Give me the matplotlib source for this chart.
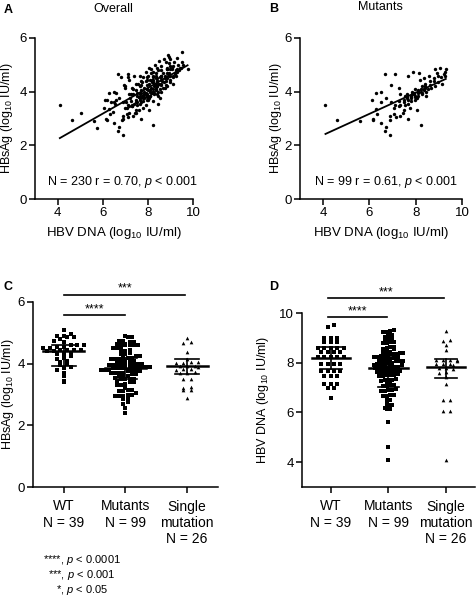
import numpy as np
import matplotlib.pyplot as plt

plt.rcParams['font.family'] = ['Liberation Sans', 'DejaVu Sans']
plt.rcParams['mathtext.fontset'] = 'custom'
plt.rcParams['mathtext.rm'] = 'Liberation Sans'
plt.rcParams['mathtext.it'] = 'Liberation Sans:italic'

# Mutants: paired HBV DNA / HBsAg (panel B, Mutants column of C and D)
mut_dna = [9.30, 9.25, 9.28, 9.22, 9.10, 9.05, 9.12, 8.95, 8.92, 8.98,
           8.80, 8.78, 8.83, 8.85, 8.60, 8.62, 8.57, 8.65, 8.55,
           8.40, 8.35, 8.43, 8.38, 8.45, 8.42, 8.36,
           8.25, 8.22, 8.27, 8.24, 8.20, 8.28, 8.26,
           8.10, 8.08, 8.12, 8.05, 8.13, 8.07, 8.11,
           7.95, 7.92, 7.97, 7.93, 7.98, 7.90, 7.96,
           7.80, 7.78, 7.82, 7.77, 7.83, 7.79, 7.81,
           7.65, 7.62, 7.67, 7.63, 7.68, 7.64, 7.66,
           7.50, 7.48, 7.52, 7.47, 7.53, 7.49,
           7.30, 7.28, 7.32, 7.27, 7.33, 7.29,
           7.10, 7.08, 7.12, 7.07, 7.13,
           6.90, 6.88, 6.92, 6.87, 6.93,
           6.70, 6.68, 6.72, 6.67,
           6.50, 6.48, 6.52, 6.30, 6.28, 6.32, 6.15, 6.12, 6.17,
           5.60, 4.62, 4.10]
mut_hbsag = [4.85, 4.60, 4.75, 4.65, 4.55, 4.90, 4.30, 4.60, 4.70, 4.35,
             4.40, 4.50, 4.20, 4.85, 4.25, 4.40, 4.60, 4.15, 4.10,
             4.30, 4.50, 4.00, 4.15, 3.85, 4.20, 4.05,
             4.00, 4.10, 3.95, 2.75, 4.45, 3.90, 4.20,
             3.85, 4.05, 3.95, 3.30, 4.70, 3.75, 4.00,
             3.80, 3.95, 4.10, 3.90, 3.70, 4.75, 3.85,
             3.75, 3.85, 3.90, 3.40, 4.00, 3.65, 3.80,
             3.70, 3.80, 3.55, 3.90, 3.00, 3.75, 4.60,
             3.60, 3.70, 3.50, 3.20, 3.85, 3.30,
             3.50, 3.45, 3.10, 3.65, 3.90, 4.15,
             3.50, 3.15, 4.65, 3.40, 3.05,
             2.40, 3.10, 3.60, 2.95, 4.25,
             2.70, 2.55, 3.75, 4.65,
             4.00, 3.60, 2.85, 3.95, 3.35, 3.15, 3.00, 3.70, 2.95,
             2.90, 2.95, 3.50]

# Wild type
wt_dna = [9.50, 9.42, 8.98, 8.98, 8.98, 8.85, 8.85, 8.85,
          8.60, 8.60, 8.60, 8.60, 8.60, 8.42, 8.42, 8.42, 8.42,
          8.22, 8.22, 8.22, 8.22, 8.22, 7.95, 7.95, 7.95, 7.95,
          7.68, 7.68, 7.68, 7.68, 7.48, 7.48, 7.48,
          7.15, 7.15, 7.15, 7.00, 7.00, 6.60]
wt_hbsag = [5.10, 4.90, 4.85, 4.60, 4.95, 4.70, 4.50, 4.85,
            4.55, 4.45, 4.80, 4.30, 4.60, 4.40, 4.50, 4.20, 4.90,
            4.45, 4.60, 4.35, 4.00, 4.75, 4.10, 4.45, 3.85, 4.55,
            4.40, 3.95, 4.25, 3.80, 4.30, 3.60, 4.05,
            3.45, 4.45, 3.90, 3.40, 4.15, 3.70]

# Remaining patients of the overall cohort (panel A only)
other_dna = [5.06, 5.76, 9.50, 9.76, 6.05, 6.20, 6.45, 6.55, 6.60, 6.80,
             7.00, 7.05, 7.20, 7.25, 7.35, 7.40, 7.45, 7.50, 7.55, 7.60,
             7.65, 7.70, 7.70, 7.75, 7.80, 7.85, 7.85, 7.90, 7.95, 7.95,
             8.00, 8.00, 8.05, 8.10, 8.10, 8.15, 8.15, 8.20, 8.20, 8.25,
             8.30, 8.30, 8.35, 8.35, 8.40, 8.45, 8.45, 8.50, 8.50, 8.55,
             8.60, 8.60, 8.65, 8.70, 8.70, 8.75, 8.80, 8.80, 8.85, 8.90,
             8.90, 8.95, 9.00, 9.00, 9.05, 9.10, 9.15, 9.20, 9.25, 9.30,
             9.35, 9.40, 9.45, 9.55, 7.30, 7.60, 7.90, 8.00, 8.25, 8.40,
             7.15, 6.90, 7.40, 7.10, 6.35, 8.55, 8.75, 9.10, 8.05, 7.75,
             8.35, 8.95]
other_hbsag = [3.22, 2.63, 5.49, 4.83, 3.40, 3.70, 3.25, 3.55, 3.95, 4.55,
               4.20, 3.60, 3.75, 3.90, 4.10, 3.55, 3.20, 3.95, 4.30, 3.80,
               4.20, 3.60, 4.05, 4.35, 4.55, 3.75, 4.15, 4.40, 3.90, 4.25,
               4.60, 4.05, 4.30, 4.45, 3.85, 4.15, 4.85, 4.35, 3.95, 4.55,
               4.25, 5.00, 4.05, 4.70, 4.40, 3.55, 4.80, 4.30, 5.15, 4.55,
               4.00, 4.95, 4.70, 4.35, 5.20, 4.60, 4.25, 5.10, 4.90, 4.65,
               5.35, 5.05, 4.45, 5.20, 4.85, 4.95, 5.10, 4.70, 4.80, 5.25,
               5.00, 4.80, 4.90, 5.00, 3.45, 3.30, 3.50, 3.70, 3.65, 3.90,
               3.20, 3.00, 4.60, 4.55, 3.60, 3.75, 4.15, 4.60, 4.90, 3.85,
               4.60, 5.30]

# Single mutation group (C and D)
single_dna = [9.27, 8.92, 8.88, 8.72, 8.50, 8.12, 8.10, 8.08, 8.11, 8.09,
              7.93, 7.95, 7.91, 7.94, 7.77, 7.79, 7.76, 7.60, 7.62, 7.44,
              7.15, 6.52, 6.50, 6.05, 6.07, 4.10]
single_hbsag = [4.82, 4.70, 4.66, 4.38, 4.15, 4.03, 4.05, 4.02, 4.04, 3.92,
                3.93, 3.91, 3.90, 3.82, 3.83, 3.81, 3.71, 3.72, 3.70, 3.49,
                3.50, 3.22, 3.24, 3.16, 3.15, 2.89]

groups = ['WT\nN = 39', 'Mutants\nN = 99', 'Single\nmutation\nN = 26']
# median and interquartile range as drawn in C and D
hbsag_med = [4.42, 3.87, 3.92]
hbsag_q1 = [3.93, 3.50, 3.65]
hbsag_q3 = [4.60, 4.20, 4.14]
dna_med = [8.18, 7.77, 7.84]
dna_q1 = [7.75, 7.03, 7.37]
dna_q3 = [8.62, 8.24, 8.13]

W, H = 477, 600
fig = plt.figure(figsize=(W / 100, H / 100), dpi=100)


def px_axes(l, t, r, b):
    ax = fig.add_axes([l / W, 1 - b / H, (r - l) / W, (b - t) / H])
    ax.spines[['top', 'right']].set_visible(False)
    ax.spines[['left', 'bottom']].set_linewidth(1.1)
    ax.tick_params(width=1.1, length=4, labelsize=9.5, pad=2)
    return ax


def scatter_panel(ax, x, y, text, tx):
    x = np.asarray(x)
    y = np.asarray(y)
    ax.scatter(x, y, s=6, c='black', linewidths=0)
    k, b0 = np.polyfit(x, y, 1)
    xs = np.array([x.min(), x.max()])
    ax.plot(xs, k * xs + b0, color='black', lw=1.3)
    ax.set_xlim(3, 10)
    ax.set_ylim(0, 6)
    ax.set_xticks([4, 6, 8, 10])
    ax.set_yticks([0, 2, 4, 6])
    ax.set_xlabel('HBV DNA (log$_{10}$ IU/ml)', fontsize=9.5, labelpad=4)
    ax.set_ylabel('HBsAg (log$_{10}$ IU/ml)', fontsize=9)
    ax.text(tx, 0.106, text, transform=ax.transAxes, ha='center', va='center', fontsize=9)


def swarm_xy(i, vals, binh, dx):
    vals = np.sort(np.asarray(vals, float))
    rows = np.round(vals / binh)
    xs, ys = [], []
    for r in np.unique(rows):
        row = vals[rows == r]
        off = (np.arange(len(row)) - (len(row) - 1) / 2) * dx
        xs.extend(i + off)
        ys.extend(row)
    return xs, ys


def dot_panel(ax, data, binh, med, q1, q3):
    styles = [('s', 5, 0.11), ('s', 5, 0.065), ('^', 7, 0.12)]
    for i, vals in enumerate(data):
        m, s, dx = styles[i]
        xs, ys = swarm_xy(i, vals, binh, dx)
        ax.scatter(xs, ys, marker=m, s=s, c='black', linewidths=0, zorder=2)
        ax.plot([i - 0.33, i + 0.33], [med[i]] * 2, color='black', lw=1.8, zorder=3)
        ax.plot([i, i], [q1[i], q3[i]], color='black', lw=1.2, zorder=3)
        for q in (q1[i], q3[i]):
            ax.plot([i - 0.19, i + 0.19], [q, q], color='black', lw=1.2, zorder=3)
    ax.set_xlim(-0.5, 2.5)
    ax.set_xticks(range(3))
    ax.set_xticklabels(groups, fontsize=10)
    ax.tick_params(axis='x', pad=5)


def sig_bar(ax, x0, x1, y, stars):
    ax.plot([x0, x1], [y, y], color='black', lw=1.2, clip_on=False)
    ax.text((x0 + x1) / 2, y, stars, ha='center', va='bottom', fontsize=9)


axA = px_axes(35, 38, 193, 199)
scatter_panel(axA, mut_dna + wt_dna + other_dna, mut_hbsag + wt_hbsag + other_hbsag,
              'N = 230 r = 0.70, $p$ < 0.001', 0.557)
axA.yaxis.set_label_coords(-0.127, 0.5)
axB = px_axes(300, 38, 462, 199)
scatter_panel(axB, mut_dna, mut_hbsag, 'N = 99 r = 0.61, $p$ < 0.001', 0.53)
axB.yaxis.set_label_coords(-0.10, 0.5)

axC = px_axes(33, 302, 218, 487)
dot_panel(axC, [wt_hbsag, mut_hbsag, single_hbsag], 0.12, hbsag_med, hbsag_q1, hbsag_q3)
axC.set_ylim(0, 6)
axC.set_yticks([0, 2, 4, 6])
axC.set_ylabel('HBsAg (log$_{10}$ IU/ml)', fontsize=9)
axC.yaxis.set_label_coords(-0.094, 0.5)
sig_bar(axC, 0, 1.0, 5.58, '****')
sig_bar(axC, 0, 1.97, 6.23, '***')

axD = px_axes(302, 313, 475, 487)
dot_panel(axD, [wt_dna, mut_dna, single_dna], 0.16, dna_med, dna_q1, dna_q3)
axD.set_ylim(3, 10)
axD.set_yticks([4, 6, 8, 10])
axD.set_ylabel('HBV DNA (log$_{10}$ IU/ml)', fontsize=9)
axD.yaxis.set_label_coords(-0.18, 0.5)
sig_bar(axD, -0.05, 0.98, 9.84, '****')
sig_bar(axD, -0.05, 1.97, 10.6, '***')

fig.text(113 / W, 1 - 9 / H, 'Overall', fontsize=9, ha='center', va='center')
fig.text(380 / W, 1 - 7 / H, 'Mutants', fontsize=9, ha='center', va='center')

for lab, x, y in [('A', 8, 10), ('B', 274, 9), ('C', 8, 287), ('D', 274, 287)]:
    fig.text(x / W, 1 - y / H, lab, fontsize=9, fontweight='bold', ha='center', va='center')

fig.text(82 / W, 1 - 560 / H, '****, $p$ < 0.0001', fontsize=8, ha='center', va='center')
fig.text(82 / W, 1 - 575 / H, '***, $p$ < 0.001', fontsize=8, ha='center', va='center')
fig.text(82 / W, 1 - 590 / H, '*, $p$ < 0.05', fontsize=8, ha='center', va='center')

fig.savefig('out.png', dpi=100)
